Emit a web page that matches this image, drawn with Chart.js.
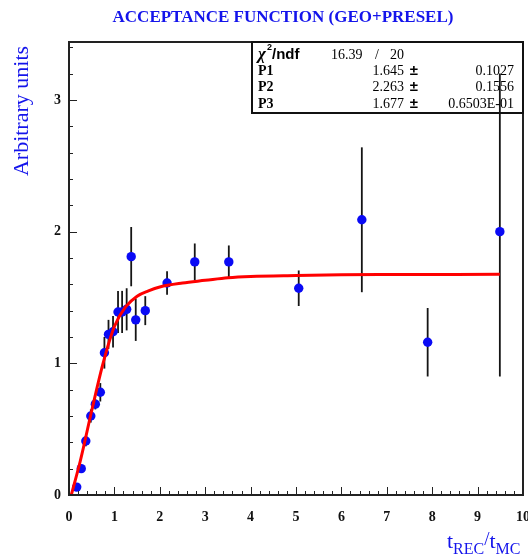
<!DOCTYPE html>
<html>
<head>
<meta charset="utf-8">
<script src="https://cdn.jsdelivr.net/npm/chart.js@4"></script>
<style>
  body { margin: 0; background: #fff; }
  #wrap { width: 528px; height: 558px; }
</style>
</head>
<body>
<div id="wrap"><canvas id="myChart" width="528" height="558"></canvas></div>
<script>
// measured points (t_REC/t_MC, acceptance)
const xVals = [0.17, 0.27, 0.37, 0.48, 0.58, 0.69, 0.78, 0.87, 0.97, 1.08, 1.17, 1.27, 1.37, 1.47, 1.68, 2.16, 2.77, 3.52, 5.06, 6.45, 7.90, 9.49];
const yVals = [0.06, 0.20, 0.41, 0.60, 0.69, 0.78, 1.08, 1.22, 1.24, 1.39, 1.39, 1.41, 1.81, 1.33, 1.40, 1.61, 1.77, 1.77, 1.57, 2.09, 1.16, 2.00];
const errLo = [0.02, 0.03, 0.04, 0.05, 0.04, 0.07, 0.12, 0.11, 0.12, 0.16, 0.16, 0.16, 0.225, 0.16, 0.11, 0.09, 0.14, 0.125, 0.135, 0.55, 0.26, 1.10];
const errHi = [0.02, 0.03, 0.04, 0.05, 0.04, 0.07, 0.12, 0.11, 0.12, 0.16, 0.16, 0.16, 0.225, 0.16, 0.11, 0.09, 0.14, 0.125, 0.135, 0.55, 0.26, 1.20];

// fit curve
const curveX = [0.05, 0.25, 0.5, 0.75, 1.0, 1.25, 1.5, 1.75, 2.0, 2.5, 3.0, 3.5, 4.0, 5.0, 6.0, 7.0, 8.0, 9.49];
const curveY = [0.0, 0.26, 0.64, 1.0, 1.28, 1.43, 1.51, 1.55, 1.58, 1.61, 1.63, 1.65, 1.66, 1.667, 1.672, 1.674, 1.675, 1.676];

// tick labels
const xTickLabels = ['0', '1', '2', '3', '4', '5', '6', '7', '8', '9', '10'];
const yTickLabels = ['0', '1', '2', '3'];

// stats box
const statNames = ['P1', 'P2', 'P3'];
const statValues = ['1.645', '2.263', '1.677'];
const statErrors = ['0.1027', '0.1556', '0.6503E-01'];
const chi2 = '16.39';
const ndf = '20';

const blue = 'rgb(20, 20, 235)';
const serif = '"Liberation Serif", "DejaVu Serif", serif';
const sans = '"Liberation Sans", Arial, sans-serif';

const pointData = xVals.map((x, i) => ({ x: x, y: yVals[i] }));
const curveData = curveX.map((x, i) => ({ x: x, y: curveY[i] }));

// error bars under the markers
const errorBars = {
  id: 'errorBars',
  beforeDatasetsDraw(chart) {
    const { ctx, scales: { x, y } } = chart;
    ctx.save();
    ctx.strokeStyle = '#151515';
    ctx.lineWidth = 1.8;
    xVals.forEach((xv, i) => {
      const px = x.getPixelForValue(xv);
      ctx.beginPath();
      ctx.moveTo(px, y.getPixelForValue(yVals[i] - errLo[i]));
      ctx.lineTo(px, y.getPixelForValue(yVals[i] + errHi[i]));
      ctx.stroke();
    });
    ctx.restore();
  }
};

// frame, inward ticks, titles and stats box
const decorations = {
  id: 'decorations',
  afterDraw(chart) {
    const { ctx, chartArea: { left, right, top, bottom }, scales: { x, y } } = chart;
    ctx.save();

    // ticks
    ctx.strokeStyle = '#222';
    ctx.lineWidth = 1;
    for (let k = 0; k <= 50; k++) {
      const v = k * 0.2;
      const px = Math.round(x.getPixelForValue(v)) + 0.5;
      const len = k % 5 === 0 ? 8 : 4;
      ctx.beginPath();
      ctx.moveTo(px, bottom);
      ctx.lineTo(px, bottom - len);
      ctx.stroke();
    }
    for (let k = 0; k <= 17; k++) {
      const v = k * 0.2;
      const py = Math.round(y.getPixelForValue(v)) + 0.5;
      const len = k % 5 === 0 ? 8 : 4;
      ctx.beginPath();
      ctx.moveTo(left, py);
      ctx.lineTo(left + len, py);
      ctx.stroke();
    }

    // frame
    ctx.strokeStyle = '#222';
    ctx.lineWidth = 2;
    ctx.strokeRect(left, top, right - left, bottom - top);

    // title
    ctx.fillStyle = blue;
    ctx.font = 'bold 17px ' + serif;
    ctx.textAlign = 'center';
    ctx.textBaseline = 'middle';
    ctx.fillText('ACCEPTANCE FUNCTION (GEO+PRESEL)', 283, 18);

    // y axis title
    ctx.save();
    ctx.translate(22, 111);
    ctx.rotate(-Math.PI / 2);
    ctx.font = '22px ' + serif;
    ctx.fillText('Arbitrary units', 0, 0);
    ctx.restore();

    // x axis title t_REC / t_MC
    ctx.textAlign = 'left';
    ctx.textBaseline = 'alphabetic';
    let cx = 447;
    const parts = [['t', 22, 0], ['REC', 16, 6], ['/', 19, -3], ['t', 22, 0], ['MC', 16, 6]];
    parts.forEach(([txt, size, dy]) => {
      ctx.font = size + 'px ' + serif;
      ctx.fillText(txt, cx, 548 + dy);
      cx += ctx.measureText(txt).width;
    });

    // stats box
    const bx = 252, by = top, bw = right - 252, bh = 71;
    ctx.strokeStyle = '#111';
    ctx.lineWidth = 2;
    ctx.strokeRect(bx, by, bw, bh);
    ctx.fillStyle = '#000';
    ctx.textBaseline = 'middle';
    ctx.textAlign = 'left';
    ctx.font = 'bold italic 17px ' + serif;
    ctx.fillText('\u03c7', 258, 55);
    ctx.font = 'bold 9px ' + sans;
    ctx.fillText('2', 267, 48);
    ctx.font = 'bold 15px ' + sans;
    ctx.fillText('/ndf', 272, 55);
    ctx.font = '14px ' + serif;
    ctx.fillText(chi2, 331, 55);
    ctx.fillText('/', 375, 55);
    ctx.fillText(ndf, 390, 55);
    const rows = [71, 87, 104];
    statNames.forEach((name, i) => {
      ctx.font = 'bold 14px ' + serif;
      ctx.textAlign = 'left';
      ctx.fillText(name, 258, rows[i]);
      ctx.font = '14px ' + serif;
      ctx.textAlign = 'right';
      ctx.fillText(statValues[i], 404, rows[i]);
      ctx.font = 'bold 15px ' + sans;
      ctx.fillText('\u00b1', 418, rows[i]);
      ctx.font = '14px ' + serif;
      ctx.fillText(statErrors[i], 514, rows[i]);
    });

    ctx.restore();
  }
};

const config = {
  type: 'scatter',
  data: {
    datasets: [
      {
        type: 'line',
        label: 'fit',
        data: curveData,
        borderColor: 'rgb(255, 0, 0)',
        borderWidth: 3,
        pointRadius: 0,
        fill: false,
        cubicInterpolationMode: 'monotone',
        order: 0
      },
      {
        label: 'points',
        data: pointData,
        backgroundColor: 'rgb(10, 10, 245)',
        borderWidth: 0,
        pointRadius: 4.7,
        order: 1
      }
    ]
  },
  options: {
    responsive: false,
    animation: false,
    devicePixelRatio: 1,
    layout: { padding: { top: 42, right: 5, left: 0, bottom: 0 } },
    plugins: {
      legend: { display: false },
      tooltip: { enabled: false }
    },
    scales: {
      x: {
        type: 'linear',
        min: 0,
        max: 10,
        grid: { display: false, drawTicks: false, tickLength: 0 },
        border: { display: false },
        afterFit(scale) {
          scale.height = 63;
          scale.paddingLeft = 0;
          scale.paddingRight = 0;
        },
        afterBuildTicks(scale) {
          scale.ticks = xTickLabels.map(t => ({ value: Number(t) }));
        },
        ticks: {
          padding: 14,
          maxRotation: 0,
          autoSkip: false,
          color: '#111',
          font: { family: serif, size: 14, weight: 'bold' },
          callback: (v) => String(v)
        }
      },
      y: {
        type: 'linear',
        min: 0,
        max: 3.44,
        grid: { display: false, drawTicks: false, tickLength: 0 },
        border: { display: false },
        afterFit(scale) {
          scale.width = 69;
          scale.paddingTop = 0;
          scale.paddingBottom = 0;
        },
        afterBuildTicks(scale) {
          scale.ticks = yTickLabels.map(t => ({ value: Number(t) }));
        },
        ticks: {
          padding: 8,
          autoSkip: false,
          color: '#111',
          font: { family: serif, size: 14, weight: 'bold' },
          callback: (v) => String(v)
        }
      }
    }
  },
  plugins: [errorBars, decorations]
};

const myChart = new Chart(document.getElementById('myChart'), config);
</script>
</body>
</html>
